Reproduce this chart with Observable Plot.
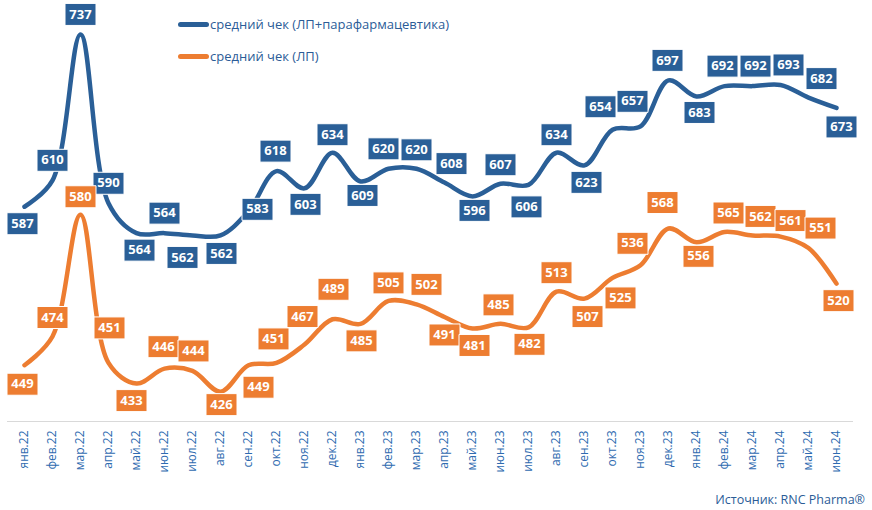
<!DOCTYPE html>
<html>
<head>
<meta charset="utf-8">
<script src="https://cdn.jsdelivr.net/npm/d3@7"></script>
<script src="https://cdn.jsdelivr.net/npm/@observablehq/plot@0.6"></script>
<style>
  body { margin: 0; background: #fff; font-family: "Open Sans", sans-serif; }
  #wrap { position: relative; width: 872px; height: 510px; overflow: hidden; }
  .leg { position: absolute; left: 178px; height: 20px; line-height: 20px; font-size: 13px; color: #2B5C97; white-space: nowrap; }
  .leg .sw { display: inline-block; width: 31px; height: 5px; border-radius: 3px; vertical-align: middle; margin-right: 1px; position: relative; top: -1px; }
  #source { position: absolute; right: 7px; top: 490px; height: 20px; line-height: 20px; font-size: 12.5px; color: #2B5C97; }
</style>
</head>
<body>
<div id="wrap">
  <div id="chart"></div>
  <div class="leg" style="top:14px"><span class="sw" style="background:#2A5F97"></span>средний чек (ЛП+парафармацевтика)</div>
  <div class="leg" style="top:46px"><span class="sw" style="background:#ED7D31"></span>средний чек (ЛП)</div>
  <div id="source">Источник: RNC Pharma®</div>
</div>
<script>
// ---- data ----
const months = ["янв.22","фев.22","мар.22","апр.22","май.22","июн.22","июл.22","авг.22","сен.22","окт.22","ноя.22","дек.22",
                "янв.23","фев.23","мар.23","апр.23","май.23","июн.23","июл.23","авг.23","сен.23","окт.23","ноя.23","дек.23",
                "янв.24","фев.24","мар.24","апр.24","май.24","июн.24"];
const checkTotal = [587,610,737,590,564,564,562,562,583,618,603,634,609,620,620,608,596,607,606,634,623,654,657,697,683,692,692,693,682,673];
const checkDrugs = [449,474,580,451,433,446,444,426,449,451,467,489,485,505,502,491,481,485,482,513,507,525,536,568,556,565,562,561,551,520];
const seriesNames = ["средний чек (ЛП+парафармацевтика)", "средний чек (ЛП)"];

// ---- label placement (pixel nudges of the data-label boxes, like Excel's) ----
const totalLabelDx = [-2,0,0,0,3,0,-10,1,9,-1,1,0,2,-5,0,7,2,0,-2,0,2,-12,-8,-1,3,-2,3,8,13,5];
const totalLabelDy = [17,-20,-20,-20,17,-20,22,18,-2,-20,16,-18,14,-20,-19,-19,14,-19,22,-18,17,-23,-25,-20,16,-20,-20,-20,-19,19];
const drugsLabelDx = [-2,0,0,1,-5,-1,1,1,10,-3,-2,1,1,0,10,0,2,-2,1,0,3,8,-8,-6,2,4,8,10,12,2];
const drugsLabelDy = [19,-19,-18,-35,17,-22,-20,13,22,-24,-28,-30,17,-18,-20,18,17,-19,17,-19,18,20,-22,-26,14,-19,-19,-16,-20,17];

const BLUE = "#2A5F97", ORANGE = "#ED7D31";

const rows = (vals, dxs, dys, s) => vals.map((v, i) => ({month: months[i], value: v, dx: dxs[i], dy: dys[i], series: s}));
const total = rows(checkTotal, totalLabelDx, totalLabelDy, seriesNames[0]);
const drugs = rows(checkDrugs, drugsLabelDx, drugsLabelDy, seriesNames[1]);

const box = { draw(ctx) { ctx.rect(-15.5, -11, 31, 22); } };

function labelMarks(data, color) {
  const out = [];
  for (const d of data) {
    out.push(Plot.dot([d], {x: "month", y: "value", symbol: box, fill: color, stroke: "white", strokeWidth: 1, dx: d.dx, dy: d.dy}));
    out.push(Plot.text([d], {x: "month", y: "value", text: d => String(d.value), fill: "white", fontSize: 13, fontWeight: 700, dx: d.dx, dy: d.dy}));
  }
  return out;
}

const chart = Plot.plot({
  width: 872,
  height: 490,
  marginTop: 19,
  marginBottom: 69,
  marginLeft: 7,
  marginRight: 19,
  style: {fontFamily: "Open Sans, sans-serif", color: "#2F6BB0", background: "white"},
  x: {type: "point", domain: months, padding: 0.5, label: null},
  y: {domain: [400, 750], axis: null},
  marks: [
    Plot.ruleY([400], {stroke: "#d9d9d9", strokeWidth: 1}),
    Plot.axisX({tickRotate: -90, tickSize: 0, tickPadding: 9, fontSize: 12, label: null}),
    Plot.line(total, {x: "month", y: "value", stroke: BLUE, strokeWidth: 4.5, curve: "catmull-rom", strokeLinecap: "round"}),
    Plot.line(drugs, {x: "month", y: "value", stroke: ORANGE, strokeWidth: 4.5, curve: "catmull-rom", strokeLinecap: "round"}),
    ...labelMarks(total, BLUE),
    ...labelMarks(drugs, ORANGE)
  ]
});
document.getElementById("chart").appendChild(chart);
</script>
</body>
</html>
